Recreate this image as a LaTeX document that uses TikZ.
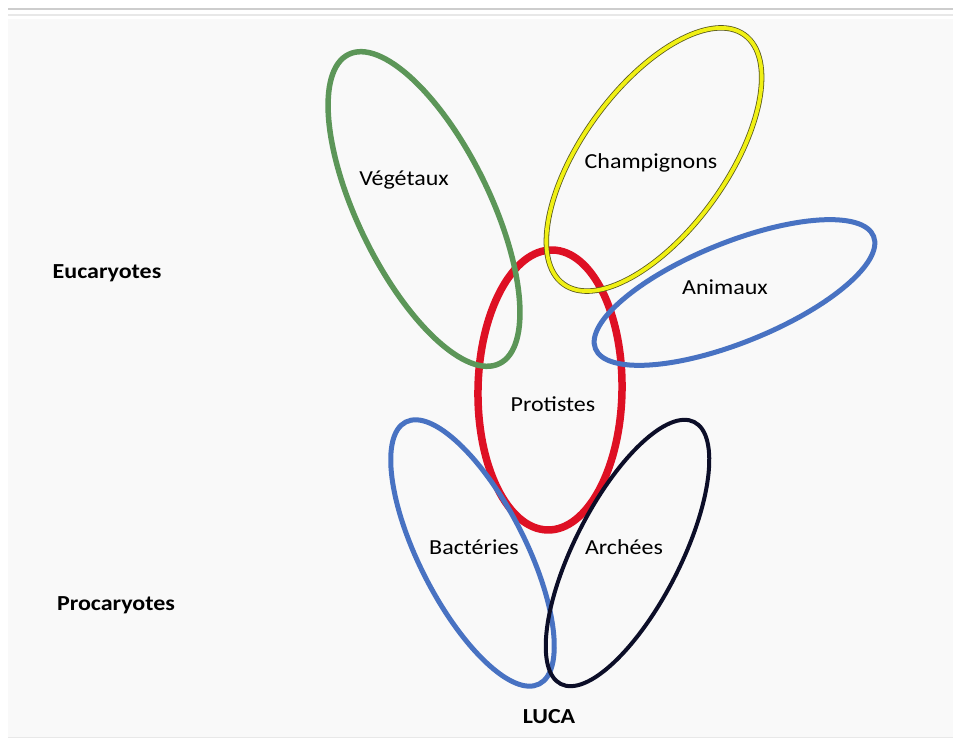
\documentclass[tikz,border=0pt]{standalone}
\usepackage{fontspec}
\setmainfont{Carlito}[FakeStretch=1.12]
\usetikzlibrary{shapes.geometric}
\definecolor{vgreen}{RGB}{92,150,88}
\definecolor{vyellow}{RGB}{240,240,20}
\definecolor{yedge}{RGB}{90,90,30}
\definecolor{vblue}{RGB}{72,114,194}
\definecolor{vred}{RGB}{222,16,36}
\definecolor{vnavy}{RGB}{12,14,40}
\definecolor{panel}{RGB}{249,249,249}
\definecolor{frameline}{RGB}{205,205,205}
\definecolor{frameline2}{RGB}{232,232,232}
\begin{document}
\begin{tikzpicture}[x=1bp,y=1bp,
  blob/.style={ellipse, inner sep=0pt, outer sep=0pt, draw},
  lbl/.style={font=\fontsize{21.5}{25}\selectfont, text=black, inner sep=0pt},
  grp/.style={font=\bfseries\fontsize{21.5}{25}\selectfont, text=black, inner sep=0pt}]
\useasboundingbox (0,0) rectangle (953,740);
\fill[white] (0,0) rectangle (953,740);
\fill[panel] (8,3) rectangle (953,721);
\draw[line width=2.5bp, frameline] (8,731) -- (953,731);
\draw[line width=1.2bp, frameline2] (8,725) -- (953,725);
\draw[line width=1bp, frameline2] (8,2) -- (953,2);
% ellipses
\node[blob, draw=vred, line width=7.5bp, minimum width=144bp, minimum height=280bp, rotate=-1] (prot) at (550,350) {};
\node[blob, draw=vblue, line width=5bp, minimum width=294bp, minimum height=106bp, rotate=-63] (bact) at (472.5,187) {};
\node[blob, draw=vnavy, line width=4bp, minimum width=294bp, minimum height=106bp, rotate=63] (arch) at (627.5,187) {};
\node[blob, draw=vblue, line width=5bp, minimum width=300bp, minimum height=100bp, rotate=22] (anim) at (734.5,447.5) {};
\node[blob, draw=vgreen, line width=5.5bp, minimum width=344bp, minimum height=132bp, rotate=-64] (veg) at (424,531) {};
\node[blob, draw=yedge, double=vyellow, double distance=3.8bp, line width=0.8bp, minimum width=308bp, minimum height=144bp, rotate=54] (champ) at (654,580.5) {};
% labels
\node[lbl] (lveg) at (404,560) {Végétaux};
\node[lbl] (lchamp) at (651,577) {Champignons};
\node[lbl] (lanim) at (725,453) {Animaux};
\node[lbl] (lprot) at (553,336) {Protistes};
\node[lbl] (lbact) at (474,193) {Bactéries};
\node[lbl] (larch) at (624,193) {Archées};
\node[grp] (euc) at (107,467) {Eucaryotes};
\node[grp] (proc) at (116,135) {Procaryotes};
\node[grp] (luca) at (549,23) {LUCA};
\end{tikzpicture}
\end{document}
